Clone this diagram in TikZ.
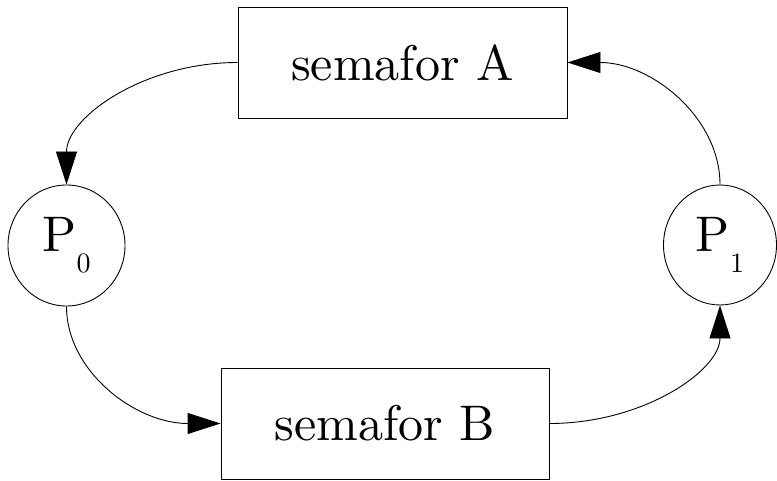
\documentclass[tikz,border=0pt]{standalone}
\usepackage{fontspec}
\newfontfamily\labelfont{lmroman10-regular}[Extension=.otf]
\usetikzlibrary{arrows.meta,calc,shapes.geometric}

\tikzset{
  semabox/.style={draw, line width=0.9pt, rectangle, inner sep=0pt,
    minimum width=#1, minimum height=111pt,
    font=\labelfont\fontsize{50}{50}\selectfont},
  procnode/.style={draw, line width=0.9pt, ellipse, inner sep=0pt,
    font=\labelfont\fontsize{50}{50}\selectfont},
  flow/.style={line width=0.9pt, -{Triangle[length=33pt,width=21pt]}}
}
\newcommand{\procsub}[1]{\raisebox{-21pt}{\fontsize{28}{28}\selectfont #1}}

\begin{document}
\begin{tikzpicture}[x=1pt,y=-1pt]
  \useasboundingbox (0,0) rectangle (777,481);

  % semaphores
  \node[semabox=329pt] (A) at (402.5,62.5) {semafor A};
  \node[semabox=328pt] (B) at (385,423.5) {semafor B};

  % processes
  \node[procnode, minimum width=117pt, minimum height=121pt] (P0) at (66.5,245.5) {P\procsub{0}};
  \node[procnode, minimum width=113pt, minimum height=120pt] (P1) at (720,245) {P\procsub{1}};

  % cycle of connectors
  \draw[flow] (A.west) .. controls ($(A.west)+(-94,0)$) and ($(P0.north)+(0,-67)$) .. (P0.north);
  \draw[flow] (P0.south) .. controls ($(P0.south)+(0,65)$) and ($(B.west)+(-85,0)$) .. (B.west);
  \draw[flow] (B.east) .. controls ($(B.east)+(94,0)$) and ($(P1.south)+(0,65)$) .. (P1.south);
  \draw[flow] (P1.north) .. controls ($(P1.north)+(0,-67)$) and ($(A.east)+(84,0)$) .. (A.east);
\end{tikzpicture}
\end{document}
